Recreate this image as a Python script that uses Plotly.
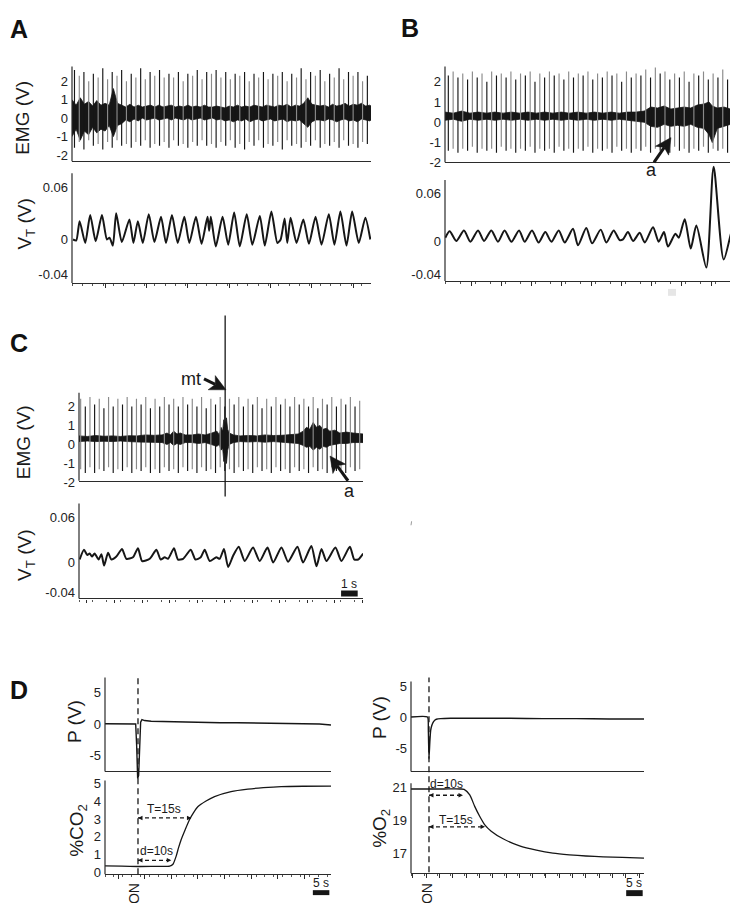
import math
import plotly.graph_objects as go

W, H = 738, 903
FONT = "Liberation Sans, Arial, Helvetica, sans-serif"
INK = "#161616"
GRAY = "#8a8a8a"
AXC = "#2b2b2b"

# ---------------- DATA ----------------
# Panel A - EMG
a_spike_t = [0.15, 0.44, 0.72, 1.01, 1.29, 1.58, 1.86, 2.15, 2.43, 2.72, 3.00, 3.29, 3.58, 3.86, 4.15, 4.43,
             4.72, 5.00, 5.29, 5.57, 5.86, 6.14, 6.43, 6.72, 7.00, 7.29, 7.57, 7.86, 8.14, 8.43, 8.71, 9.00,
             9.29, 9.57, 9.86, 10.14, 10.43, 10.71, 11.00, 11.28, 11.57, 11.85, 12.14, 12.43, 12.71, 13.00,
             13.28, 13.57, 13.85, 14.14, 14.42, 14.71, 15.00, 15.28, 15.57, 15.85, 16.14, 16.42, 16.71,
             16.99, 17.28, 17.56, 17.85]
a_spike_top = [2.6, 2.3, 2.5, 2.0, 2.4, 2.2, 2.7, 2.1, 2.5, 2.3,
               2.6, 2.0, 2.4, 2.2, 2.7, 2.1, 2.5, 2.3, 2.6, 2.2,
               2.4, 2.2, 2.5, 2.0, 2.4, 2.3, 2.6, 2.1, 2.5, 2.4,
               2.6, 2.2, 2.5, 2.1, 2.4, 2.3, 2.5, 2.0, 2.4, 2.2,
               2.5, 2.1, 2.4, 2.3, 2.5, 2.0, 2.4, 2.2, 2.7, 2.1,
               2.5, 2.3, 2.6, 2.0, 2.4, 2.2, 2.7, 2.1, 2.5, 2.3,
               2.5, 2.0, 2.3]
a_spike_bot = [-1.6, -1.3, -1.7, -1.2, -1.5, -1.4, -1.7, -1.3, -1.6, -1.2,
               -1.5, -1.4, -1.6, -1.3, -1.5, -1.2, -1.6, -1.4, -1.5, -1.3,
               -1.6, -1.2, -1.5, -1.4, -1.6, -1.3, -1.5, -1.2, -1.5, -1.4,
               -1.6, -1.3, -1.5, -1.2, -1.6, -1.4, -1.7, -1.3, -1.5, -1.2,
               -1.6, -1.4, -1.5, -1.3, -1.7, -1.2, -1.5, -1.4, -1.6, -1.3,
               -1.5, -1.2, -1.6, -1.4, -1.5, -1.3, -1.6, -1.2, -1.5, -1.4,
               -1.6, -1.3, -1.4]
a_band_t = [0, 0.25, 0.5, 0.75, 1.0, 1.25, 1.5, 1.75, 2.0, 2.25, 2.5, 2.75,
            3.0, 3.25, 3.5, 3.75, 4.0, 4.25, 4.5, 4.75, 5.0, 5.25, 5.5, 5.75,
            6.0, 6.25, 6.5, 6.75, 7.0, 7.25, 7.5, 7.75, 8.0, 8.25, 8.5, 8.75,
            9.0, 9.25, 9.5, 9.75, 10.0, 10.25, 10.5, 10.75, 11.0, 11.25, 11.5, 11.75,
            12.0, 12.25, 12.5, 12.75, 13.0, 13.25, 13.5, 13.75, 14.0, 14.25, 14.5, 14.75,
            15.0, 15.25, 15.5, 15.75, 16.0, 16.25, 16.5, 16.75, 17.0, 17.25, 17.5, 17.75, 18.0,
            18.07]
a_band_hi = [1.0, 0.7, 1.1, 0.75, 0.9, 0.65, 0.95, 0.7, 0.8, 0.7, 1.6, 0.8,
             0.7, 0.6, 0.75, 0.6, 0.7, 0.6, 0.65, 0.7, 0.6, 0.7, 0.6, 0.65,
             0.7, 0.6, 0.65, 0.6, 0.7, 0.6, 0.65, 0.6, 0.7, 0.6, 0.6, 0.65,
             0.6, 0.55, 0.65, 0.6, 0.7, 0.6, 0.65, 0.6, 0.7, 0.65, 0.6, 0.7,
             0.65, 0.6, 0.7, 0.65, 0.75, 0.6, 0.7, 0.65, 0.8, 1.1, 0.75, 0.7,
             0.65, 0.7, 0.6, 0.75, 0.65, 0.7, 0.8, 0.65, 0.75, 0.7, 0.8, 0.65, 0.7,
             0.65]
a_band_lo = [-1.0, -0.6, -1.2, -0.7, -0.9, -0.5, -0.8, -0.6, -0.7, -0.4, -1.0, -0.4,
             -0.3, -0.1, -0.2, -0.05, -0.15, 0.0, -0.1, -0.05, 0.0, -0.1, -0.05, 0.0,
             -0.1, 0.0, -0.05, -0.1, 0.0, -0.1, -0.05, 0.0, -0.1, -0.05, 0.0, -0.1,
             -0.05, -0.15, -0.1, -0.2, -0.1, -0.15, -0.05, -0.2, -0.1, -0.05, -0.15, -0.1,
             -0.05, -0.15, -0.1, -0.05, -0.2, -0.1, -0.15, -0.1, -0.3, -0.5, -0.2, -0.1,
             -0.1, -0.15, -0.05, -0.1, -0.2, -0.1, -0.05, -0.15, -0.1, -0.2, -0.05, -0.1, -0.15,
             -0.1]
# Panel A - tidal volume
a_vt_t = [0.06, 0.26, 0.46, 0.80, 1.10, 1.43, 1.81, 2.11, 2.27, 2.47, 2.67, 3.01, 3.47, 3.71, 3.98, 4.28,
          4.64, 4.98, 5.38, 5.68, 6.04, 6.39, 6.79, 7.09, 7.49, 7.83, 8.19, 8.29, 8.39, 8.69, 9.10, 9.44,
          9.80, 10.14, 10.56, 10.90, 11.35, 11.65, 12.05, 12.41, 12.61, 12.85, 13.01, 13.21, 13.57, 13.98,
          14.32, 14.72, 15.08, 15.52, 15.86, 16.22, 16.59, 16.93, 17.33, 17.73, 18.03]
a_vt_v = [0.0, -0.001, 0.021, -0.004, 0.028, -0.002, 0.028, 0.0, 0.002, -0.007, 0.030, -0.003, 0.023,
          -0.004, 0.021, -0.004, 0.029, -0.003, 0.026, -0.004, 0.028, -0.004, 0.026, -0.004, 0.026,
          -0.005, 0.026, 0.010, 0.026, -0.008, 0.026, -0.006, 0.031, -0.008, 0.029, -0.006, 0.027,
          -0.007, 0.032, -0.004, 0.0, 0.024, -0.004, 0.025, -0.004, 0.023, -0.005, 0.026, -0.006, 0.029,
          -0.006, 0.032, -0.007, 0.032, -0.004, 0.025, 0.0]

# Panel B - EMG
b_spike_t = [0.20, 0.49, 0.78, 1.07, 1.36, 1.65, 1.94, 2.23, 2.52, 2.81, 3.10, 3.39, 3.68, 3.97, 4.26, 4.55,
             4.84, 5.13, 5.42, 5.71, 6.00, 6.29, 6.58, 6.87, 7.16, 7.45, 7.74, 8.03, 8.32, 8.61, 8.90, 9.19,
             9.48, 9.77, 10.06, 10.35, 10.64, 10.93, 11.22, 11.51, 11.80, 12.09, 12.38, 12.67, 12.96,
             13.25, 13.54, 13.83, 14.12, 14.41, 14.70, 14.99, 15.28, 15.57, 15.86, 16.15, 16.44, 16.73,
             17.02, 17.31, 17.60, 17.89]
b_spike_top = [2.3, 2.5, 2.2, 2.4, 2.1, 2.5, 2.2, 2.4, 2.0, 2.5,
               2.3, 2.4, 2.2, 2.5, 2.1, 2.4, 2.3, 2.5, 2.0, 2.4,
               2.2, 2.5, 2.3, 2.4, 2.1, 2.5, 2.2, 2.4, 2.3, 2.5,
               2.1, 2.4, 2.2, 2.5, 2.3, 2.4, 2.0, 2.5, 2.2, 2.4,
               2.3, 2.6, 2.2, 2.7, 2.4, 2.5, 2.1, 2.4, 2.2, 2.5,
               2.0, 2.4, 2.3, 2.5, 2.1, 2.4, 2.2, 2.6, 2.1, 2.4,
               2.2, 2.5]
b_spike_bot = [-1.4, -1.3, -1.5, -1.3, -1.4, -1.2, -1.5, -1.3, -1.4, -1.3,
               -1.5, -1.2, -1.4, -1.3, -1.5, -1.3, -1.4, -1.2, -1.5, -1.3,
               -1.4, -1.3, -1.5, -1.2, -1.4, -1.3, -1.5, -1.3, -1.4, -1.2,
               -1.5, -1.3, -1.4, -1.3, -1.5, -1.2, -1.4, -1.3, -1.5, -1.3,
               -1.4, -1.2, -1.5, -1.3, -1.4, -1.3, -1.5, -1.2, -1.4, -1.3,
               -1.5, -1.3, -1.4, -1.2, -1.5, -1.3, -1.4, -1.3, -1.5, -1.2,
               -1.4, -1.3]
b_band_t = [0, 0.5, 1, 1.5, 2, 2.5, 3, 3.5, 4, 4.5, 5, 5.5, 6, 6.5, 7, 7.5, 8, 8.5, 9, 9.5, 10, 10.5, 11,
            11.5, 12, 12.4, 12.8, 13.2, 13.6, 14, 14.4, 14.8, 15.2, 15.6, 15.9, 16.1, 16.4, 16.8, 17.2,
            17.6, 18.13]
b_band_hi = [0.5, 0.45, 0.55, 0.45, 0.5, 0.45, 0.5, 0.45, 0.5, 0.45, 0.5, 0.45, 0.5, 0.45, 0.5, 0.45, 0.5,
             0.45, 0.5, 0.45, 0.5, 0.45, 0.5, 0.5, 0.55, 0.75, 0.7, 0.8, 0.65, 0.7, 0.75, 0.7, 0.85, 0.9,
             1.0, 0.8, 0.7, 0.75, 0.65, 0.7, 0.7]
b_band_lo = [0.1, 0.15, 0.05, 0.15, 0.1, 0.15, 0.1, 0.15, 0.1, 0.15, 0.1, 0.15, 0.1, 0.15, 0.1, 0.15, 0.1,
             0.15, 0.1, 0.15, 0.1, 0.15, 0.1, 0.05, 0.0, -0.2, -0.25, -0.1, -0.2, -0.15, -0.2, -0.1, -0.25,
             -0.3, -0.6, -1.0, -0.3, -0.2, -0.1, -0.15, -0.1]
# Panel B - tidal volume
b_vt_t = [0.02, 0.28, 0.68, 1.14, 1.53, 1.99, 2.35, 2.79, 3.19, 3.59, 4.00, 4.46, 4.80, 5.24, 5.64, 6.04,
          6.41, 6.85, 7.21, 7.71, 8.01, 8.51, 8.86, 9.38, 9.72, 10.16, 10.52, 10.72, 11.02, 11.33, 11.73,
          12.03, 12.53, 12.87, 13.19, 13.43, 13.88, 14.08, 14.44, 14.80, 15.14, 15.74, 16.18, 16.79,
          17.45, 17.95, 18.13]
b_vt_v = [0.005, 0.013, 0.001, 0.014, 0.0, 0.014, 0.001, 0.014, 0.0, 0.014, 0.0, 0.014, 0.0, 0.014,
          -0.001, 0.012, 0.0, 0.014, -0.001, 0.016, -0.0045, 0.017, -0.002, 0.015, -0.001, 0.014, 0.002,
          0.003, 0.012, 0.001, 0.011, -0.001, 0.018, 0.0, 0.012, -0.006, 0.010, 0.005, 0.028, -0.0085,
          0.020, -0.032, 0.093, -0.022, 0.024, -0.0045, -0.003]

# Panel C - EMG
c_spike_t = [0.10, 0.38, 0.66, 0.94, 1.22, 1.50, 1.78, 2.06, 2.34, 2.62, 2.90, 3.18, 3.46, 3.74, 4.02, 4.30,
             4.58, 4.86, 5.14, 5.42, 5.70, 5.98, 6.26, 6.54, 6.82, 7.10, 7.38, 7.66, 7.94, 8.22, 8.50, 8.78,
             9.06, 9.34, 9.62, 9.90, 10.18, 10.46, 10.74, 11.02, 11.30, 11.58, 11.86, 12.14, 12.42, 12.70,
             12.98, 13.26, 13.54, 13.82, 14.10, 14.38, 14.66, 14.94, 15.22, 15.50, 15.78, 16.06, 16.34,
             16.62, 16.90]
c_spike_top = [2.4, 2.0, 2.5, 2.1, 2.4, 1.9, 2.5, 2.0, 2.4, 2.1,
               2.5, 2.0, 2.4, 2.1, 2.5, 1.9, 2.4, 2.0, 2.5, 2.1,
               2.4, 2.0, 2.5, 2.1, 2.4, 2.0, 2.5, 1.9, 2.4, 2.1,
               2.5, 2.0, 2.4, 2.1, 2.5, 2.0, 2.4, 2.1, 2.5, 1.9,
               2.4, 2.0, 2.5, 2.1, 2.4, 2.0, 2.5, 2.1, 2.4, 2.0,
               2.5, 1.9, 2.4, 2.1, 2.5, 2.0, 2.4, 2.1, 2.5, 2.0,
               2.3]
c_spike_bot = [-1.3, -1.5, -1.2, -1.5, -1.3, -1.4, -1.2, -1.5, -1.3, -1.4,
               -1.2, -1.5, -1.3, -1.4, -1.2, -1.5, -1.3, -1.5, -1.2, -1.4,
               -1.3, -1.5, -1.2, -1.4, -1.3, -1.5, -1.2, -1.4, -1.3, -1.5,
               -1.2, -1.4, -1.3, -1.5, -1.2, -1.4, -1.3, -1.5, -1.2, -1.4,
               -1.3, -1.5, -1.2, -1.4, -1.3, -1.5, -1.2, -1.4, -1.3, -1.5,
               -1.2, -1.4, -1.3, -1.5, -1.2, -1.4, -1.3, -1.5, -1.2, -1.4,
               -1.3]
c_band_t = [0, 0.5, 1, 1.5, 2, 2.5, 3, 3.5, 4, 4.5, 5, 5.3, 5.5, 5.7, 5.9, 6.1, 6.4, 6.8, 7.2, 7.6, 8.0,
            8.3, 8.45, 8.55, 8.65, 8.72, 8.8, 8.88, 8.95, 9.05, 9.3, 9.7, 10.2, 10.7, 11.2, 11.7, 12.2,
            12.7, 13.2, 13.5, 13.7, 13.9, 14.1, 14.3, 14.5, 14.7, 14.9, 15.1, 15.4, 15.7, 16.1, 16.5, 17.1]
c_band_hi = [0.45, 0.42, 0.47, 0.43, 0.45, 0.42, 0.46, 0.45, 0.5, 0.48, 0.5, 0.6, 0.5, 0.7, 0.55, 0.6, 0.5,
             0.5, 0.55, 0.5, 0.6, 0.7, 0.5, 0.9, 0.7, 1.3, 1.0, 1.4, 0.8, 0.6, 0.5, 0.45, 0.47, 0.45, 0.5,
             0.47, 0.48, 0.5, 0.55, 0.7, 0.9, 0.8, 1.15, 0.9, 1.0, 0.8, 0.85, 0.7, 0.75, 0.6, 0.65, 0.6,
             0.55]
c_band_lo = [0.15, 0.18, 0.15, 0.17, 0.15, 0.18, 0.15, 0.13, 0.12, 0.1, 0.1, 0.0, 0.1, -0.05, 0.05, 0.0,
             0.1, 0.1, 0.05, 0.1, 0.0, -0.1, 0.0, -0.3, -0.2, -0.9, -0.5, -1.0, -0.3, 0.0, 0.1, 0.15, 0.13,
             0.15, 0.12, 0.15, 0.12, 0.1, 0.05, -0.05, -0.15, -0.1, -0.3, -0.15, -0.25, -0.1, -0.15, -0.05,
             0.0, 0.05, 0.05, 0.1, 0.1]
c_mt_t = 8.8
# Panel C - tidal volume
c_vt_t = [0.04, 0.30, 0.50, 0.64, 0.78, 0.94, 1.18, 1.35, 1.51, 1.75, 1.95, 2.25, 2.59, 2.85, 3.25, 3.55,
          3.80, 4.26, 4.66, 4.92, 5.16, 5.36, 5.72, 5.96, 6.27, 6.73, 7.01, 7.33, 7.57, 7.87, 8.27, 8.47,
          8.73, 8.98, 9.28, 9.62, 9.98, 10.48, 10.88, 11.35, 11.69, 12.19, 12.59, 13.15, 13.49, 13.99,
          14.30, 14.60, 14.90, 15.44, 15.80, 16.31, 16.57, 16.81, 17.11]
c_vt_v = [0.004, 0.017, 0.010, 0.012, 0.008, 0.012, 0.004, 0.011, -0.004, 0.013, 0.004, 0.008, 0.018,
          0.005, 0.007, 0.019, 0.002, 0.005, 0.017, 0.004, 0.007, 0.005, 0.019, 0.004, 0.005, 0.017,
          0.004, 0.007, 0.017, 0.002, 0.007, 0.005, 0.018, -0.006, 0.009, 0.021, 0.002, 0.020, 0.002,
          0.020, 0.0, 0.020, 0.001, 0.021, 0.0, 0.022, -0.005, 0.018, 0.002, 0.020, 0.002, 0.021, 0.004,
          0.004, 0.012]

# Panel D - left (CO2)
dl_on = 10.0
dl_p_t = [0, 5, 9.3, 9.6, 9.9, 10.2, 10.5, 10.8, 11.2, 12, 14, 17, 20, 25, 30, 35, 40, 45, 50, 55, 60, 65, 68.5]
dl_p_v = [0.05, 0.0, 0.0, -3.5, -8.7, -8.2, -3.0, 0.3, 0.7, 0.55, 0.45, 0.4, 0.35, 0.3, 0.25, 0.2, 0.2,
          0.15, 0.2, 0.1, 0.05, 0.0, -0.15]
dl_co2_t = [0, 5, 10, 15, 19.6, 20.6, 21.6, 22.3, 23.1, 24.3, 25.6, 26.8, 28.2, 30.5, 33.2, 38.2, 43.3, 48,
            53.4, 60, 68.5]
dl_co2_v = [0.37, 0.35, 0.33, 0.34, 0.35, 0.46, 0.93, 1.39, 1.85, 2.4, 2.96, 3.35, 3.7, 4.0, 4.26, 4.54,
            4.68, 4.76, 4.82, 4.84, 4.85]
dl_d, dl_T = 10.1, 16.2          # arrow lengths (s) as drawn
dl_d_level, dl_T_level = 0.68, 3.06

# Panel D - right (O2)
dr_on = 5.45
dr_p_t = [0, 5.0, 5.25, 5.45, 5.7, 5.95, 6.3, 6.7, 7.2, 7.7, 9, 12, 20, 30, 40, 50, 60, 70.6]
dr_p_v = [0.05, 0.05, -2.0, -6.6, -4.0, -2.1, -1.3, -0.8, -0.45, -0.3, -0.2, -0.15, -0.15, -0.15, -0.2,
          -0.2, -0.25, -0.25]
dr_o2_t = [0, 5, 10, 15, 16.1, 17.8, 19.3, 20.8, 22.3, 24.3, 27.9, 32.9, 38, 43, 48, 53, 58.2, 64, 70.6]
dr_o2_v = [20.92, 20.92, 20.92, 20.92, 20.9, 20.56, 19.87, 19.27, 18.77, 18.37, 17.91, 17.48, 17.22,
           17.04, 16.94, 16.87, 16.82, 16.78, 16.74]
dr_d, dr_T = 10.3, 17.0
dr_d_level, dr_T_level = 20.54, 18.63

emg_ticks = [2, 1, 0, -1, -2]
vt_ticks = [0.06, 0, -0.04]
vt_ticktext = ["0.06", "0", "-0.04"]
p_ticks = [5, 0, -5]
co2_ticks = [0, 1, 2, 3, 4, 5]
o2_ticks = [21, 19, 17]

# ---------------- FIGURE ----------------
fig = go.Figure()
layout = dict(width=W, height=H, margin=dict(l=0, r=0, t=0, b=0), paper_bgcolor="white",
              plot_bgcolor="rgba(0,0,0,0)", showlegend=False, font=dict(family=FONT, color="#222"))
shapes, annotations = [], []


def X(p):
    return p / W


def Y(p):
    return 1 - p / H


def axes(n, box, xr, yr, tickvals, ticktext=None, ext_top=0, ext_bot=0, xt=None):
    x0, x1, yt, yb = box
    ppu = (yb - yt) / (yr[1] - yr[0])
    ylo = yr[0] - ext_bot / ppu
    yhi = yr[1] + ext_top / ppu
    key = "" if n == 1 else str(n)
    xa = dict(domain=[X(x0), X(x1)], range=xr, anchor="free", position=Y(yb), showline=True,
              linecolor=AXC, linewidth=1.2, showgrid=False, zeroline=False, showticklabels=False,
              ticks="", fixedrange=True)
    if xt:
        xa.update(ticks="outside", tickmode="linear", tick0=xt[0], dtick=xt[1], ticklen=3.5,
                  tickwidth=1, tickcolor=AXC,
                  minor=dict(ticks="outside", dtick=xt[2], ticklen=2, tickwidth=0.8, tickcolor="#555"))
    ya = dict(domain=[Y(yb + ext_bot), Y(yt - ext_top)], range=[ylo, yhi], anchor="x" + key,
              showline=False, showgrid=False, zeroline=False, ticks="", tickmode="array",
              tickvals=tickvals, ticktext=ticktext if ticktext else [str(v) for v in tickvals],
              tickfont=dict(size=13, color="#222", family=FONT), ticklabelstandoff=3, fixedrange=True)
    layout["xaxis" + key] = xa
    layout["yaxis" + key] = ya
    shapes.append(dict(type="line", xref="paper", yref="paper", x0=X(x0), x1=X(x0), y0=Y(yb), y1=Y(yt),
                       line=dict(color=AXC, width=1.2)))
    return "x" + key, "y" + key


def add_emg(xa, ya, st, stop, sbot, bt, bhi, blo, black_parity=0):
    fig.add_trace(go.Scatter(x=bt + bt[::-1], y=bhi + blo[::-1], fill="toself", fillcolor=INK,
                             line=dict(color=INK, width=0.8), mode="lines", xaxis=xa, yaxis=ya,
                             hoverinfo="skip"))
    for parity, col in ((1 - black_parity, GRAY), (black_parity, INK)):
        xs, ys = [], []
        for i, (t, hi, lo) in enumerate(zip(st, stop, sbot)):
            if i % 2 == parity:
                xs += [t, t, None]
                ys += [lo, hi, None]
        fig.add_trace(go.Scatter(x=xs, y=ys, mode="lines", line=dict(color=col, width=1.15),
                                 xaxis=xa, yaxis=ya, hoverinfo="skip"))


def add_line(xa, ya, t, v, width=2.0, spline=True, smooth=0.7):
    fig.add_trace(go.Scatter(x=t, y=v, mode="lines",
                             line=dict(color=INK, width=width, shape="spline" if spline else "linear",
                                       smoothing=smooth if spline else None),
                             xaxis=xa, yaxis=ya, hoverinfo="skip"))


def text(s, x, y, size, angle=0, bold=False, color="#1a1a1a", xanchor="center"):
    annotations.append(dict(text=("<b>%s</b>" % s) if bold else s, x=X(x), y=Y(y), xref="paper",
                            yref="paper", showarrow=False, textangle=angle, xanchor=xanchor,
                            yanchor="middle", font=dict(size=size, family=FONT, color=color)))


def arrow(tip, tail, head=16.0, half=8.0, notch=4.0, stem=3.0):
    # annotation arrow drawn as shapes (stem + notched filled head), pixel geometry -> paper coords
    dx, dy = tip[0] - tail[0], tip[1] - tail[1]
    n = math.hypot(dx, dy)
    ux, uy = dx / n, dy / n
    px_, py_ = -uy, ux
    bx, by = tip[0] - head * ux, tip[1] - head * uy
    shapes.append(dict(type="line", xref="paper", yref="paper", x0=X(tail[0]), y0=Y(tail[1]),
                       x1=X(bx + notch * ux), y1=Y(by + notch * uy), line=dict(color=INK, width=stem)))
    pts = [(tip[0], tip[1]), (bx + half * px_, by + half * py_), (bx + notch * ux, by + notch * uy),
           (bx - half * px_, by - half * py_)]
    path = "M " + " L ".join("%.5f,%.5f" % (X(a), Y(b)) for a, b in pts) + " Z"
    shapes.append(dict(type="path", xref="paper", yref="paper", path=path, fillcolor=INK,
                       line=dict(color=INK, width=0.5)))


def double_arrow(xa, ya, t0, length, level):
    fig.add_trace(go.Scatter(x=[t0, t0 + length], y=[level, level], mode="lines+markers",
                             line=dict(color=INK, width=1.3, dash="4px,3px"),
                             marker=dict(symbol=["arrow-left", "arrow-right"], size=4.5, color=INK),
                             xaxis=xa, yaxis=ya, hoverinfo="skip"))


# ---- Panel A ----
xa1, ya1 = axes(1, (64, 363, 55, 151), [0, 18.07], [-2.34, 2.80], emg_ticks)
add_emg(xa1, ya1, a_spike_t, a_spike_top, a_spike_bot, a_band_t, a_band_hi, a_band_lo)
xa2, ya2 = axes(2, (64, 363, 163, 274), [0, 18.07], [-0.0498, 0.0759], vt_ticks, vt_ticktext,
                xt=(2.0, 2.5, 0.625))
add_line(xa2, ya2, a_vt_t, a_vt_v, smooth=0.6)

# ---- Panel B ----
xa3, ya3 = axes(3, (437, 738, 55, 152), [0, 18.13], [-1.97, 2.75], emg_ticks, ext_bot=4)
add_emg(xa3, ya3, b_spike_t, b_spike_top, b_spike_bot, b_band_t, b_band_hi, b_band_lo)
xa4, ya4 = axes(4, (437, 738, 170, 272), [0, 18.13], [-0.0486, 0.0763], vt_ticks, vt_ticktext,
                ext_top=16, xt=(1.57, 1.807, 0.9035))
add_line(xa4, ya4, b_vt_t, b_vt_v)

# ---- Panel C ----
xa5, ya5 = axes(5, (71, 355, 385, 474), [0, 17.1], [-1.91, 2.72], emg_ticks, ext_bot=5)
add_emg(xa5, ya5, c_spike_t, c_spike_top, c_spike_bot, c_band_t, c_band_hi, c_band_lo, black_parity=1)
xa6, ya6 = axes(6, (71, 355, 497, 593), [0, 17.1], [-0.0478, 0.0786], vt_ticks, vt_ticktext,
                xt=(0.48, 1.657, 0.8285))
add_line(xa6, ya6, c_vt_t, c_vt_v, smooth=0.6)
shapes.append(dict(type="line", xref=xa5, yref="paper", x0=c_mt_t, x1=c_mt_t, y0=Y(490), y1=Y(307),
                   line=dict(color=INK, width=1.3)))
shapes.append(dict(type="rect", xref=xa6, yref=ya6, x0=15.78, x1=16.78, y0=-0.0451, y1=-0.0372,
                   fillcolor=INK, line=dict(width=0)))

# ---- Panel D left ----
xa7, ya7 = axes(7, (97, 323, 673, 768), [0, 68.5], [-7.57, 7.41], p_ticks, ext_bot=8)
add_line(xa7, ya7, dl_p_t, dl_p_v, width=1.4, spline=False)
xa8, ya8 = axes(8, (97, 323, 777, 872), [0, 68.5], [-0.11, 5.17], co2_ticks, xt=(3.94, 8.08, 2.693))
add_line(xa8, ya8, dl_co2_t, dl_co2_v, width=1.3, smooth=0.6)
shapes.append(dict(type="line", xref=xa8, yref="paper", x0=dl_on, x1=dl_on, y0=Y(872), y1=Y(673),
                   line=dict(color=INK, width=1.3, dash="6px,4px")))
double_arrow(xa8, ya8, dl_on, dl_T, dl_T_level)
double_arrow(xa8, ya8, dl_on, dl_d, dl_d_level)
shapes.append(dict(type="rect", xref=xa8, yref="paper", x0=63.0, x1=68.0, y0=Y(893), y1=Y(888),
                   fillcolor=INK, line=dict(width=0)))

# ---- Panel D right ----
xa9, ya9 = axes(9, (403, 636, 677, 768), [0, 70.6], [-8.64, 5.73], p_ticks)
add_line(xa9, ya9, dr_p_t, dr_p_v, width=1.4, smooth=0.5)
xa10, ya10 = axes(10, (403, 636, 780, 871), [0, 70.6], [15.82, 21.26], o2_ticks, xt=(0.6, 4.03, 4.03))
add_line(xa10, ya10, dr_o2_t, dr_o2_v, width=1.3, smooth=0.6)
shapes.append(dict(type="line", xref=xa10, yref="paper", x0=dr_on, x1=dr_on, y0=Y(870), y1=Y(673),
                   line=dict(color=INK, width=1.3, dash="6px,4px")))
double_arrow(xa10, ya10, dr_on, dr_d, dr_d_level)
double_arrow(xa10, ya10, dr_on, dr_T, dr_T_level)
shapes.append(dict(type="rect", xref=xa10, yref="paper", x0=65.2, x1=70.2, y0=Y(894), y1=Y(888),
                   fillcolor=INK, line=dict(width=0)))

# small artefacts of the original figure
shapes.append(dict(type="rect", xref="paper", yref="paper", x0=X(660), x1=X(668), y0=Y(287), y1=Y(280),
                   fillcolor="#e6e6e6", line=dict(width=0)))
shapes.append(dict(type="line", xref="paper", yref="paper", x0=X(403), x1=X(403.6), y0=Y(519), y1=Y(515),
                   line=dict(color="#9a9a9a", width=1)))

# ---- texts ----
text("A", 11, 17, 25, bold=True, color="#111")
text("B", 402, 16, 25, bold=True, color="#111")
text("C", 11, 335, 25, bold=True, color="#111")
text("D", 11, 686, 25, bold=True, color="#111")

text("EMG (V)", 15, 107, 19, angle=-90)
text("V<sub>T</sub> (V)", 18, 215, 19, angle=-90)
text("EMG (V)", 15, 435, 19, angle=-90)
text("V<sub>T</sub> (V)", 18, 550, 19, angle=-90)
text("P (V)", 66, 718, 19, angle=-90)
text("%CO<sub>2</sub>", 70, 828, 19, angle=-90)
text("P (V)", 371, 714, 19, angle=-90)
text("%O<sub>2</sub>", 373, 826, 19, angle=-90)

text("a", 643, 160, 18)
text("a", 341, 484, 18)
text("mt", 183, 371, 18)
arrow((663, 127), (646, 152))
arrow((322, 449), (340, 474))
arrow((218, 382), (196, 371))

text("1 s", 341, 578, 12)
text("5 s", 313, 881, 12)
text("5 s", 626, 881, 12)
text("ON", 126, 892, 14, angle=-90)
text("ON", 419, 892, 14, angle=-90)

text("T=15s", 156, 806, 12)
text("d=10s", 148, 848, 12)
text("d=10s", 438, 781, 12)
text("T=15s", 448, 817, 12)

layout["shapes"] = shapes
layout["annotations"] = annotations
fig.update_layout(**layout)
fig.write_html("out.html")
